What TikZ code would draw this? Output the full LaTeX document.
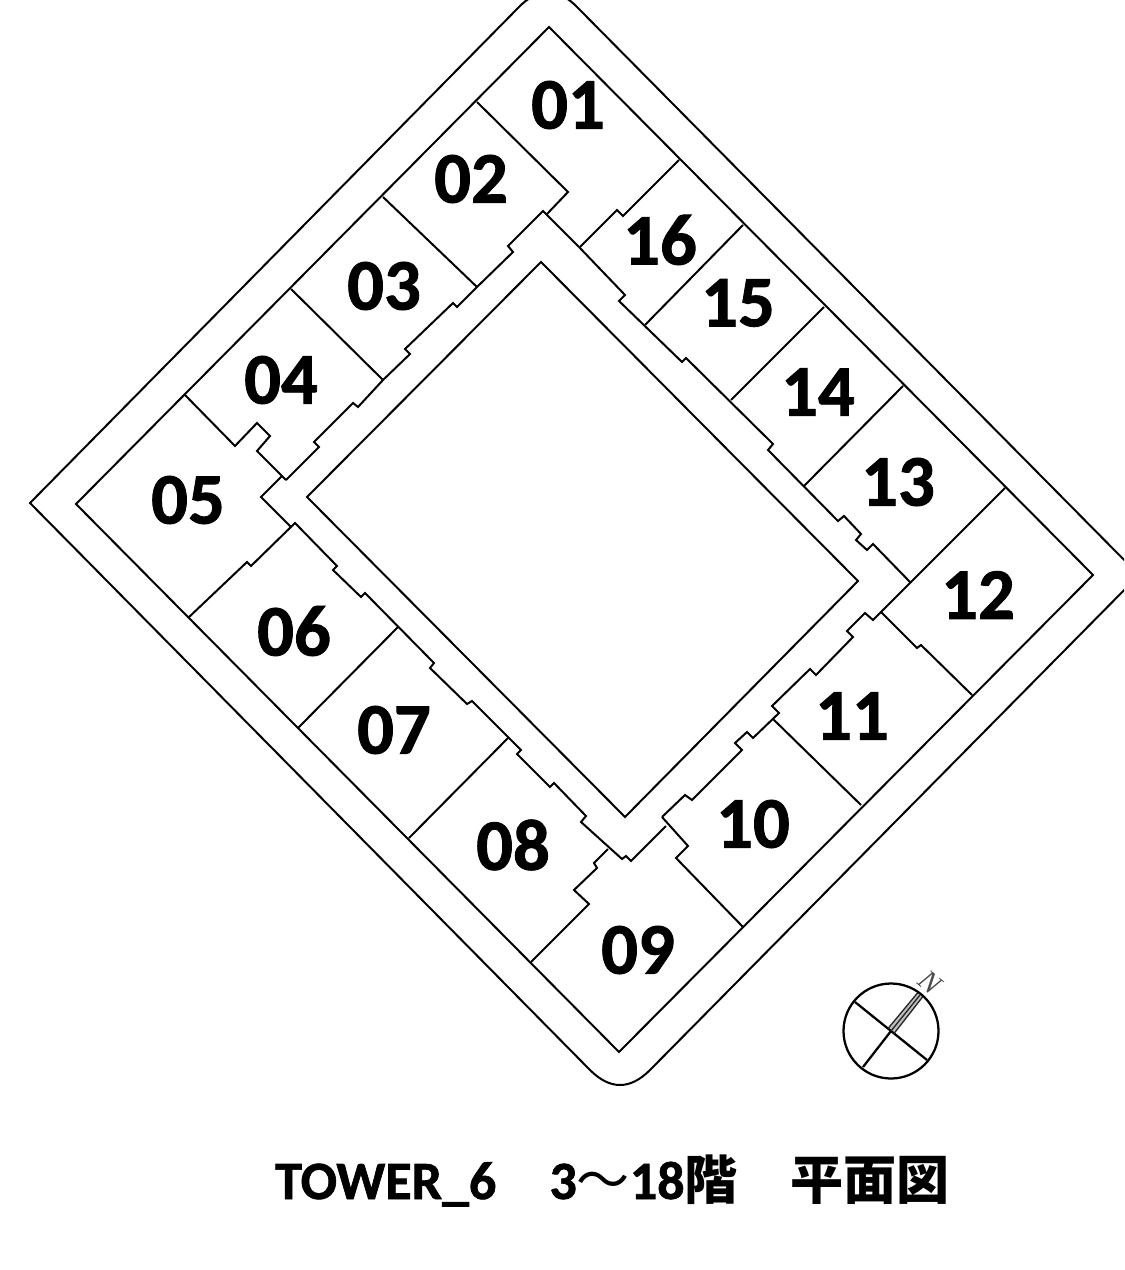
\documentclass[tikz,border=0pt]{standalone}
\usepackage{fontspec}
\setmainfont{Carlito}[BoldFont={Carlito Bold},BoldFeatures={FakeBold=1.2}]
\newfontfamily\cjk{Noto Sans CJK JP}
\newfontfamily\northfont{Liberation Serif}
\newcommand{\kanji}[1]{{\fontsize{39.8}{46}\selectfont\cjk\bfseries #1}}
\newcommand{\wave}{{\fontsize{39.8}{46}\selectfont\cjk\mdseries ～}}
\tikzset{
  wall/.style={draw=black,line width=1.5pt,line join=miter},
  compassline/.style={draw=black,line width=1.7pt},
  stripe/.style={draw=black!85,line width=1pt},
  unitlabel/.style={font=\fontsize{54.5}{60}\selectfont\bfseries,inner sep=0pt,text=black},
  titlelabel/.style={font=\fontsize{40.5}{46}\selectfont\bfseries,inner sep=0pt,anchor=base west,text=black},
  northlabel/.style={font=\fontsize{22}{24}\selectfont\northfont\itshape,inner sep=0pt,rotate=-40,text=black!70}
}
\begin{document}
\begin{tikzpicture}[x=0.75pt,y=-0.75pt]
\useasboundingbox (0,0) rectangle (1124,1270);
\fill[white] (0,0) rectangle (1124,1270);
\begin{scope}
\clip (0,0) rectangle (1124,1270);
% site outline
\draw[wall] (30,503) -- (518,8) .. controls (538,-13) and (558,-13) .. (578,8)
  -- (1139,575) -- (650,1070) .. controls (630,1090) and (610,1090) .. (590,1070) -- cycle;
\end{scope}
% building block and courtyard
\draw[wall] (76,504) -- (549,27) -- (1093,575) -- (619,1052) -- cycle;
\draw[wall] (541,262) -- (307,497) -- (625,817) -- (858,581) -- cycle;
% corridor walls
\draw[wall] (477,102) -- (568,192) -- (547,214);
\draw[wall] (579,247) -- (543,211) -- (508,246) -- (513,252) -- (477,287) -- (457,307) -- (453,303)
  -- (405,349) -- (410,354) -- (383,380) -- (358,407) -- (353,403) -- (314,442) -- (319,447) -- (286,480);
\draw[wall] (383,197) -- (477,287);
\draw[wall] (291,289) -- (383,380);
\draw[wall] (185,395) -- (235,446) -- (257,423) -- (270,436) -- (257,451) -- (286,480);
\draw[wall] (282,476) -- (261,497) -- (291,527);
\draw[wall] (188,618) -- (247,562) -- (251,566) -- (295,523) -- (337,566) -- (333,570) -- (361,597)
  -- (365,593) -- (434,663) -- (430,668) -- (467,704) -- (472,701) -- (521,750) -- (517,754)
  -- (550,787) -- (554,783) -- (586,816) -- (581,822) -- (622,859) -- (626,856) -- (631,861) -- (666,826);
\draw[wall] (298,728) -- (398,627);
\draw[wall] (409,838) -- (508,738);
\draw[wall] (531,962) -- (589,904) -- (574,890) -- (597,868) -- (594,863) -- (608,849);
\draw[wall] (662,817) -- (688,846) -- (676,858) -- (743,927);
\draw[wall] (662,817) -- (685,795) -- (692,800) -- (742,750) -- (735,743) -- (747,732) -- (753,738)
  -- (779,713) -- (772,706) -- (810,669) -- (816,675) -- (853,637) -- (847,631) -- (865,613) -- (873,620) -- (1005,488);
\draw[wall] (773,719) -- (861,805);
\draw[wall] (881,612) -- (917,648) -- (921,645) -- (972,695);
\draw[wall] (579,247) -- (625,295) -- (619,301) -- (682,362) -- (686,358) -- (773,444) -- (768,450)
  -- (838,521) -- (844,516) -- (861,534) -- (856,540) -- (867,550) -- (873,544) -- (910,582);
\draw[wall] (679,160) -- (623,216) -- (617,210) -- (580,247);
\draw[wall] (743,225) -- (645,325);
\draw[wall] (824,307) -- (731,400);
\draw[wall] (903,386) -- (804,486);
% unit numbers
\node[unitlabel] (u01) at (568,105) {01};
\node[unitlabel] (u02) at (471,179) {02};
\node[unitlabel] (u03) at (384,286) {03};
\node[unitlabel] (u04) at (281,380) {04};
\node[unitlabel] (u05) at (188,500) {05};
\node[unitlabel] (u06) at (294,631) {06};
\node[unitlabel] (u07) at (394,730) {07};
\node[unitlabel] (u08) at (513,845) {08};
\node[unitlabel] (u09) at (638,950) {09};
\node[unitlabel] (u10) at (753,824) {10};
\node[unitlabel] (u11) at (852,716) {11};
\node[unitlabel] (u12) at (978,595) {12};
\node[unitlabel] (u13) at (898,482) {13};
\node[unitlabel] (u14) at (818,392) {14};
\node[unitlabel] (u15) at (738,303) {15};
\node[unitlabel] (u16) at (660,240) {16};
% compass
\fill[black!25] (888,1028.5) -- (917.5,993) -- (922.5,997) -- (894,1033.5) -- cycle;
\draw[compassline] (891,1031) circle[radius=47.5];
\draw[compassline] (855,1002) -- (927,1060);
\draw[compassline] (863,1067) -- (891,1031);
\draw[stripe] (888,1028.5) -- (917.5,993);
\draw[stripe] (891,1031) -- (920,995);
\draw[stripe] (894,1033.5) -- (922.5,997);
\node[northlabel] (north) at (930,982) {N};
% title
\node[titlelabel] (title) at (275,1199) {TOWER\_6\kanji{　}3\wave 18\kanji{階　平面図}};
\end{tikzpicture}
\end{document}
